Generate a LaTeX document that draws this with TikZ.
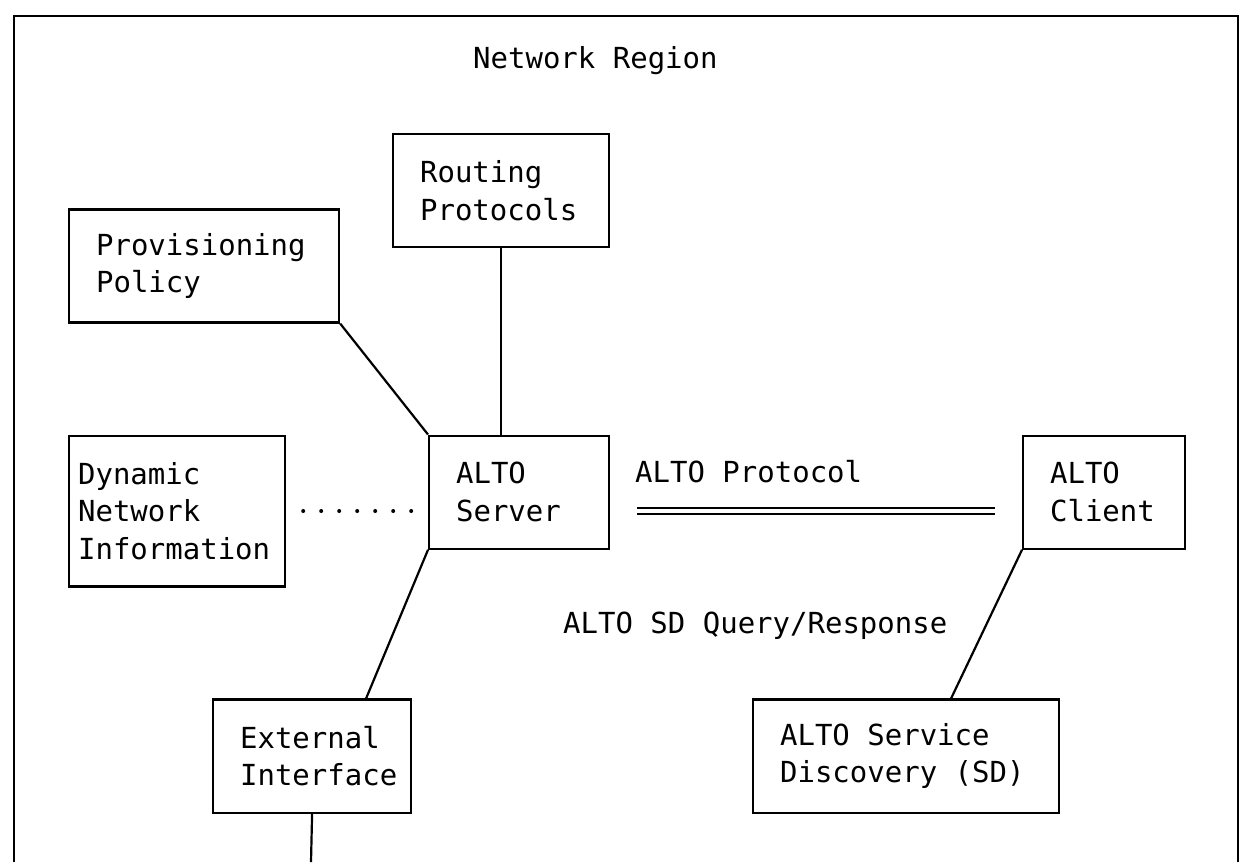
\documentclass[tikz,border=0pt]{standalone}
\usepackage{fontspec}
\newfontfamily\asciifont{DejaVu Sans Mono}
\hyphenpenalty=10000
\exhyphenpenalty=10000
\newcommand{\ws}{\hspace*{0.602em}}
\begin{document}
\begin{tikzpicture}[x=18pt, y=-37.7pt,
  txt/.style={font={\asciifont\fontsize{29pt}{37.7pt}\selectfont}},
  box/.style={txt, draw, line width=2.2pt, inner ysep=0pt, align=left, anchor=north west},
  lab/.style={txt, inner sep=0pt, anchor=base west},
  conn/.style={line width=2.2pt},
  dots/.style={line width=4pt, line cap=round, dash pattern=on 0pt off 18pt},
  proto/.style={line width=2.2pt, double, double distance=4pt}
]
\path[fill=white, use as bounding box] (-0.7778,-0.5252) rectangle (68.7778,22.3395);

% outer region (cut at the bottom of the picture)
\coordinate (bl) at (0,22.3395);
\coordinate (tl) at (0,-0.1);
\coordinate (tr) at (68,-0.1);
\coordinate (br) at (68,22.3395);
\draw[conn] (bl) -- (tl) -- (tr) -- (br);
\node[lab] (title) at (25.5,1.28) {Network Region};

% boxes
\node[box, minimum width=216pt, minimum height=113.1pt, inner xsep=27pt, text width=162pt] (routing) at (21,3) {Routing\\Protocols};
\node[box, minimum width=270pt, minimum height=113.1pt, inner xsep=27pt, text width=216pt] (prov) at (3,5) {Provisioning\\Policy};
\node[box, minimum width=216pt, minimum height=150.8pt, inner xsep=9pt, text width=198pt] (dyn) at (3,11) {Dynamic\\Network\\Information};
\node[box, minimum width=180pt, minimum height=113.1pt, inner xsep=27pt, text width=126pt] (server) at (23,11) {ALTO\\Server};
\node[box, minimum width=162pt, minimum height=113.1pt, inner xsep=27pt, text width=108pt] (client) at (56,11) {ALTO\\Client};
\node[box, minimum width=198pt, minimum height=113.1pt, inner xsep=27pt, text width=144pt] (ext) at (11,18) {External\\\mbox{Interface}};
\node[box, minimum width=306pt, minimum height=113.1pt, inner xsep=27pt, text width=252pt] (sd) at (41,18) {ALTO\ws Service\\Discovery\ws(SD)};

% connectors
\draw[conn] (routing.south) -- (routing.south |- server.north);
\draw[conn] (prov.south east) -- (server.north west);
\draw[dots, shorten <=17pt, shorten >=1pt] (dyn.east) -- (dyn.east -| server.west);
\draw[proto, shorten <=27pt, shorten >=27pt] ([yshift=-18.85pt]server.east) -- ([yshift=-18.85pt]client.west);
\node[lab] (protolabel) at (34.5,12.28) {ALTO Protocol};
\draw[conn] (server.south west) -- ([xshift=54pt]ext.north);
\draw[conn] (client.south west) -- ([xshift=45pt]sd.north);
\node[lab] (sdlabel) at (30.5,16.28) {ALTO SD Query/Response};
\coordinate (extout) at (16.5,22.3395);
\draw[conn] (ext.south) -- (extout);
\end{tikzpicture}
\end{document}
